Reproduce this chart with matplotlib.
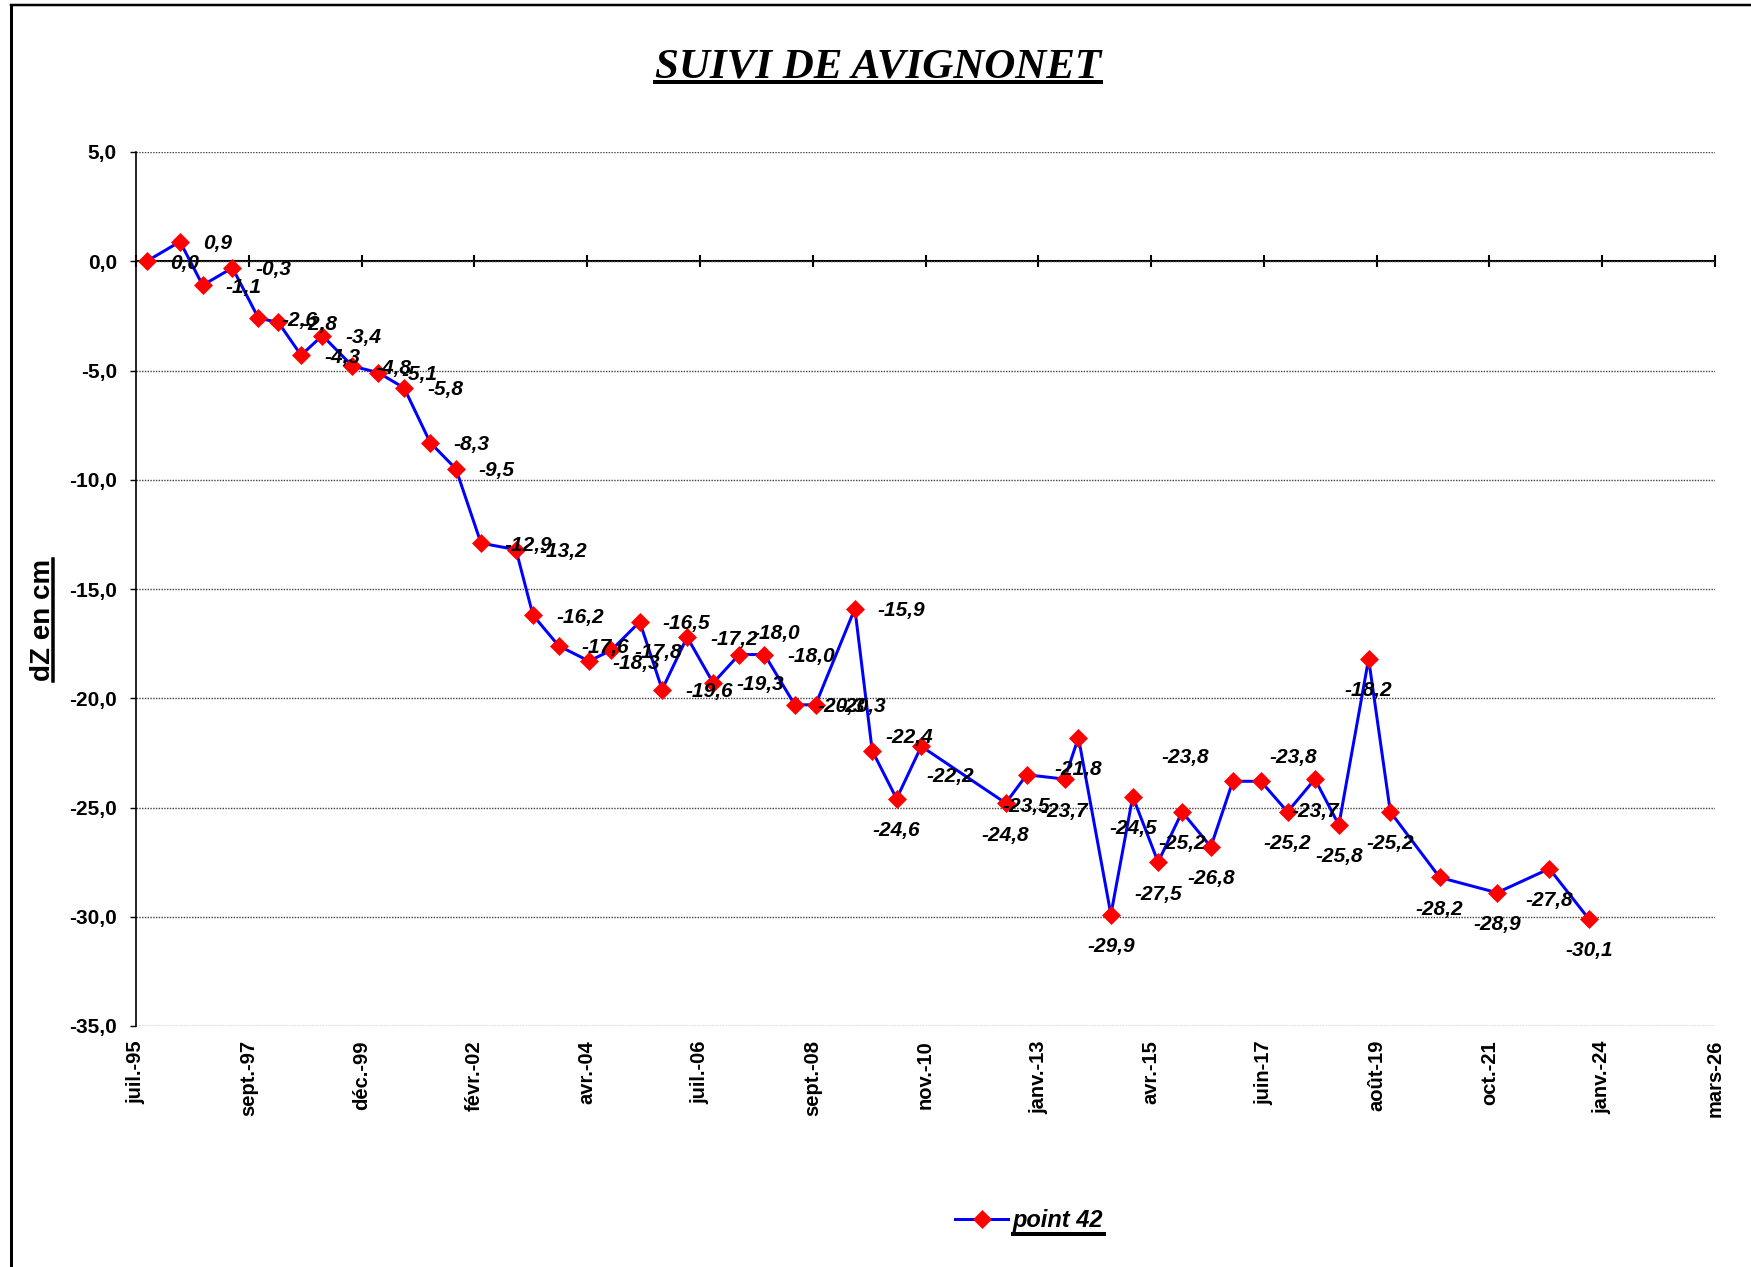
import matplotlib
matplotlib.use("Agg")
import matplotlib.pyplot as plt
import matplotlib.dates as mdates
import numpy as np
from matplotlib.lines import Line2D

# ---- data -----------------------------------------------------------------
survey_dates = [
    "1995-10-01", "1996-05-24", "1996-11-01", "1997-05-31", "1997-12-01",
    "1998-04-22", "1998-09-30", "1999-02-28", "1999-09-29", "2000-04-01",
    "2000-09-30", "2001-04-03", "2001-10-02", "2002-03-29", "2002-12-02",
    "2003-04-02", "2003-10-01", "2004-05-03", "2004-10-09", "2005-04-28",
    "2005-10-04", "2006-03-30", "2006-10-01", "2007-04-03", "2007-09-30",
    "2008-05-02", "2008-09-26", "2009-07-02", "2009-11-02", "2010-04-24",
    "2010-10-16", "2012-06-06", "2012-11-02", "2013-07-28", "2013-11-04",
    "2014-06-22", "2014-11-24", "2015-05-23", "2015-11-09", "2016-05-31",
    "2016-11-03", "2017-05-21", "2017-11-26", "2018-06-08", "2018-11-25",
    "2019-06-24", "2019-11-25", "2020-11-09", "2021-12-21", "2022-12-27",
    "2023-10-03",
]
dz_point42 = [
    0.0, 0.9, -1.1, -0.3, -2.6, -2.8, -4.3, -3.4, -4.8, -5.1,
    -5.8, -8.3, -9.5, -12.9, -13.2, -16.2, -17.6, -18.3, -17.8, -16.5,
    -19.6, -17.2, -19.3, -18.0, -18.0, -20.3, -20.3, -15.9, -22.4, -24.6,
    -22.2, -24.8, -23.5, -23.7, -21.8, -29.9, -24.5, -27.5, -25.2, -26.8,
    -23.8, -23.8, -25.2, -23.7, -25.8, -18.2, -25.2, -28.2, -28.9, -27.8,
    -30.1,
]
series_name = "point 42"
x_tick_labels = [
    "juil.-95", "sept.-97", "déc.-99", "févr.-02", "avr.-04", "juil.-06",
    "sept.-08", "nov.-10", "janv.-13", "avr.-15", "juin-17", "août-19",
    "oct.-21", "janv.-24", "mars-26",
]
axis_start = "1995-07-17"
tick_step_days = 800
y_ticks = [-35, -30, -25, -20, -15, -10, -5, 0, 5]

# label placement (pixels): R = right of the point, B = below it,
# otherwise (dx, dy) of the label centre, dy positive downwards
R, B = "R", "B"
label_place = [R] * 23 + [(37, -21)] + [R] * 4 + [(37, -13), B, (29, 30)] \
    + [B] * 9 + [(-48, -24), (32, -24)] + [B] * 9

# ---- figure ---------------------------------------------------------------
W, H, DPI = 1751, 1267, 100
PX = 72.0 / DPI  # points per pixel
SANS = ["Liberation Sans", "DejaVu Sans"]
SERIF = ["Liberation Serif", "DejaVu Serif"]
plt.rcParams["font.family"] = SANS

fig = plt.figure(figsize=(W / DPI, H / DPI), dpi=DPI)
fig.patch.set_facecolor("white")

ax_l, ax_r, ax_t, ax_b = 136, 1715, 152, 1026
ax = fig.add_axes([ax_l / W, 1 - ax_b / H, (ax_r - ax_l) / W, (ax_b - ax_t) / H])

x = mdates.date2num(np.array(survey_dates, dtype="datetime64[D]"))
start = np.datetime64(axis_start)
x_ticks = mdates.date2num(start + np.arange(len(x_tick_labels)) * np.timedelta64(tick_step_days, "D"))

ax.plot(x, dz_point42, color="#0000FF", lw=3 * PX, marker="D", ms=13 * PX,
        mfc="#FF0000", mec="#FF0000", mew=0.5, label=series_name, zorder=3)

ax.set_xlim(x_ticks[0], x_ticks[-1])
ax.set_ylim(y_ticks[0], y_ticks[-1])

# horizontal grid
ax.set_yticks(y_ticks)
ax.set_yticklabels([f"{v:.1f}".replace(".", ",") for v in y_ticks],
                   fontsize=15, fontweight="bold")
ax.yaxis.grid(True, linestyle=(0, (1, 1)), color="#404040", lw=1)
ax.set_axisbelow(True)
ax.tick_params(axis="y", direction="out", length=6 * PX, width=1, pad=13 * PX)

# date labels at the foot of the plot
ax.set_xticks(x_ticks)
ax.set_xticklabels(x_tick_labels, rotation=90, fontsize=14.5, fontweight="bold")
ax.tick_params(axis="x", length=0, pad=14 * PX)

for s in ("top", "right", "bottom"):
    ax.spines[s].set_visible(False)
ax.spines["left"].set_linewidth(1.2)

# horizontal axis crossing at dZ = 0
zero_frac = (0 - y_ticks[0]) / (y_ticks[-1] - y_ticks[0])
sec = ax.secondary_xaxis(zero_frac)
sec.set_xticks(x_ticks)
sec.set_xticklabels([])
sec.tick_params(direction="inout", length=12 * PX, width=1.5)
for s in sec.spines.values():
    s.set_linewidth(1.5)

# value labels
for xi, yi, place in zip(x, dz_point42, label_place):
    txt = f"{yi:.1f}".replace(".", ",")
    if place == R:
        off, ha = (23, -2), "left"
    elif place == B:
        off, ha = (0, -32), "center"
    else:
        off, ha = (place[0], -place[1]), "center"
    ax.annotate(txt, (xi, yi), xytext=off, textcoords="offset pixels",
                ha=ha, va="center", fontsize=15, fontweight="bold",
                fontstyle="italic", zorder=4)

# title and axis label
title = fig.text(878 / W, 1 - 77 / H, "SUIVI DE AVIGNONET", ha="center",
                 va="baseline", fontsize=31, fontweight="bold",
                 fontstyle="italic", family=SERIF)
ylab = fig.text(49.5 / W, 1 - 620 / H, "dZ en cm", rotation=90,
                rotation_mode="anchor", ha="center", va="baseline",
                fontsize=20, fontweight="bold")

# legend
leg = fig.legend(loc="center left", bbox_to_anchor=(955 / W, 1 - 1221 / H),
                 frameon=False, handlelength=53 / (17 / PX),
                 handletextpad=5 / (17 / PX), borderpad=0, borderaxespad=0,
                 prop={"weight": "bold", "style": "italic", "size": 17})

# frame around the chart area
fig.add_artist(Line2D([10.5 / W, 10.5 / W], [1 - 5 / H, -0.01],
                      transform=fig.transFigure, color="black", lw=3 * PX))
fig.add_artist(Line2D([10.5 / W, 1.01], [1 - 5 / H, 1 - 5 / H],
                      transform=fig.transFigure, color="black", lw=2.5 * PX))

# underlines
fig.canvas.draw()
renderer = fig.canvas.get_renderer()


def baseline_of(t):
    bb = t.get_window_extent(renderer)
    _, _, d = renderer.get_text_width_height_descent(
        t.get_text(), t.get_fontproperties(), ismath=False)
    return bb, bb.y0 + d


bb_t = title.get_window_extent(renderer)
y_u = H - 82
fig.add_artist(Line2D([bb_t.x0 / W, bb_t.x1 / W], [y_u / H, y_u / H],
                      transform=fig.transFigure, color="black", lw=4 * PX))

bb_y = ylab.get_window_extent(renderer)
x_u = 52.5
fig.add_artist(Line2D([x_u / W, x_u / W], [bb_y.y0 / H, bb_y.y1 / H],
                      transform=fig.transFigure, color="black", lw=3.5 * PX))

lt = leg.get_texts()[0]
bb_l, base_l = baseline_of(lt)
y_l = base_l - 6
fig.add_artist(Line2D([bb_l.x0 / W, bb_l.x1 / W], [y_l / H, y_l / H],
                      transform=fig.transFigure, color="black", lw=4 * PX))

fig.savefig("out.png", dpi=DPI, facecolor="white")
